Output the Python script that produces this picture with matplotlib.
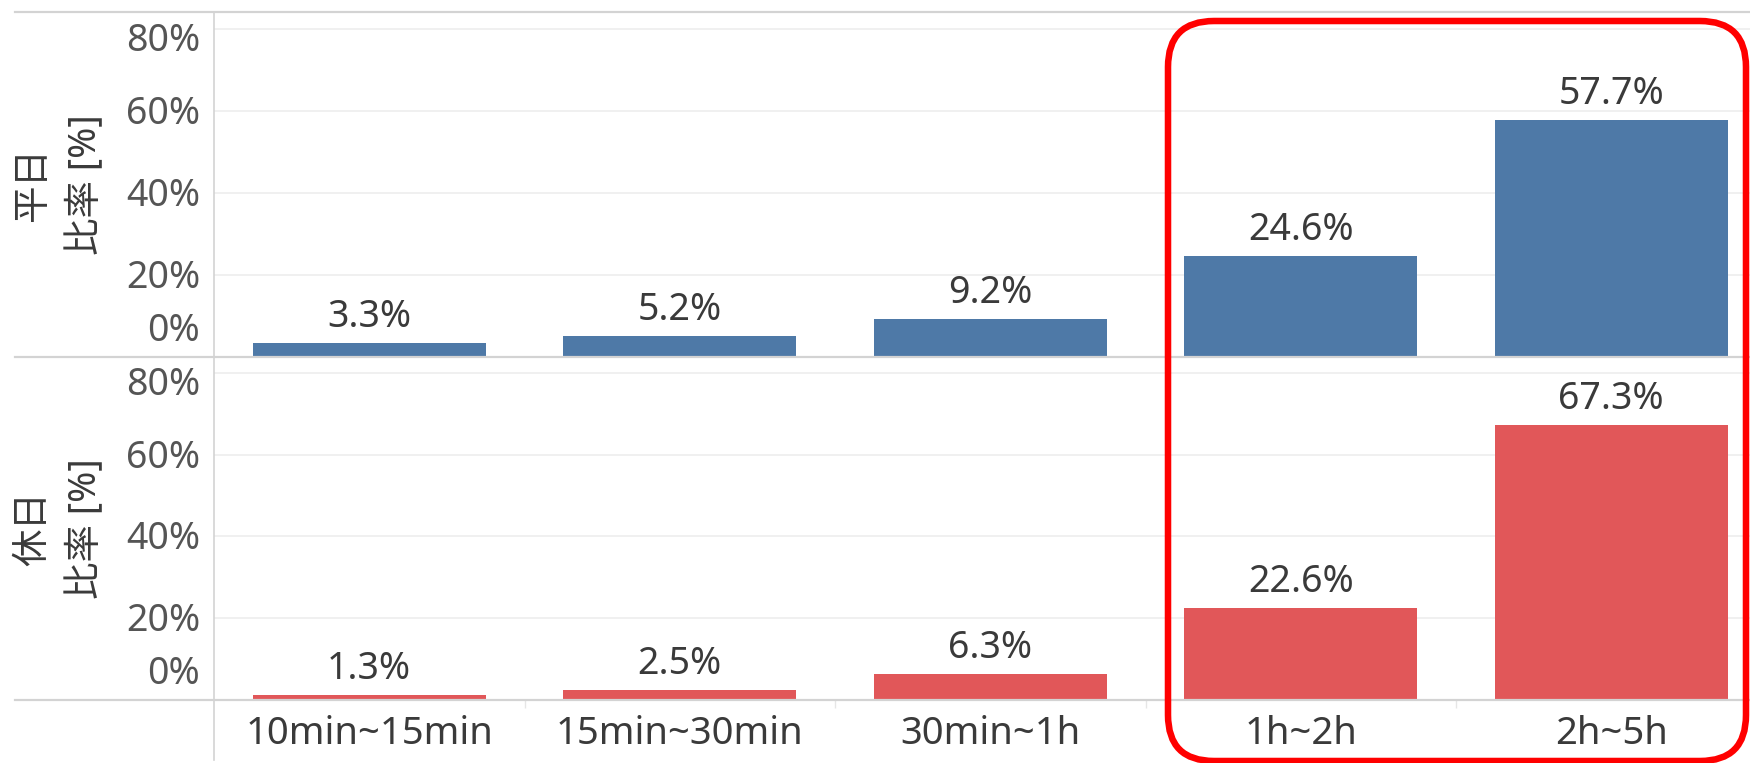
import matplotlib
matplotlib.use("Agg")
import matplotlib.pyplot as plt
from matplotlib.lines import Line2D
from matplotlib.patches import FancyBboxPatch
from matplotlib.transforms import offset_copy

plt.rcParams["font.family"] = ["Noto Sans", "Noto Sans CJK JP", "DejaVu Sans"]

# %%
categories = ["10min~15min", "15min~30min", "30min~1h", "1h~2h", "2h~5h"]
weekday = [3.3, 5.2, 9.2, 24.6, 57.7]
holiday = [1.3, 2.5, 6.3, 22.6, 67.3]
row_names = ["平日", "休日"]
y_title = "比率 [%]"
y_ticks = [0, 20, 40, 60, 80]

BLUE = "#4e79a7"
RED = "#e15759"
GRID = "#ededed"
RULE = "#d3d3d3"
TICK_C = "#555555"
TEXT_C = "#3a3a3a"

W, H = 1750, 763
fig = plt.figure(figsize=(W / 100, H / 100), dpi=100)

left = 214 / W
panes = [
    # (top px, bottom px, ymax)
    (12, 357, 84.1),
    (357, 700, 83.9),
]

axes = []
for (top, bot, ymax) in panes:
    ax = fig.add_axes([left, (H - bot) / H, 1 - left, (bot - top) / H])
    ax.set_xlim(-0.5, -0.5 + (W - 214) / 310.5)
    ax.set_ylim(0, ymax)
    for s in ax.spines.values():
        s.set_visible(False)
    ax.set_yticks([v for v in y_ticks if v > 0])
    ax.yaxis.grid(True, color=GRID, lw=1.2)
    ax.set_axisbelow(True)
    ax.tick_params(axis="y", length=0, labelleft=False)
    axes.append(ax)

# %%
for ax, vals, color, name, (top, bot, _) in zip(
    axes, [weekday, holiday], [BLUE, RED], row_names, panes
):
    x = list(range(len(categories)))
    ax.bar(x, vals, width=0.75, color=color, zorder=2)
    for xi, v in zip(x, vals):
        ax.annotate(f"{v:.1f}%", (xi, v), xytext=(0, 11.5), textcoords="offset points",
                    ha="center", va="baseline", fontsize=27, color=TEXT_C)

    # tick labels, Tableau style: edge labels pushed inside the pane
    for v in y_ticks:
        dy = {0: 26, 80: -12}.get(v, -3)
        tr = offset_copy(ax.get_yaxis_transform(), fig=fig, x=-14, y=dy, units="dots")
        ax.text(0, v, f"{v}%", transform=tr, ha="right", va="center",
                fontsize=27, color=TICK_C)

    mid = 1 - (top + bot) / 2 / H
    fig.text(33 / W, mid, name, rotation=90, ha="center", va="center",
             fontsize=27, color=TEXT_C)
    fig.text(86 / W, mid, y_title, rotation=90, ha="center", va="center",
             fontsize=27, color=TEXT_C)

axes[0].tick_params(axis="x", length=0, labelbottom=False)
bx = axes[1]
bx.set_xticks(range(len(categories)))
bx.set_xticklabels(categories, fontsize=27.5, color=TEXT_C)
bx.tick_params(axis="x", which="major", length=0, pad=11)
bx.set_xticks([i + 0.5 for i in range(len(categories) - 1)], minor=True)
bx.tick_params(axis="x", which="minor", length=6, width=1, color="#e6e6e6")

# %%
# header / pane rules
for yp in [12, 357, 700]:
    fig.add_artist(Line2D([15 / W, 1], [1 - yp / H] * 2, color=RULE, lw=1.6))
fig.add_artist(Line2D([left, left], [1 - 12 / H, 1 - 760 / H], color=RULE, lw=1.2))

# red highlight box
box = FancyBboxPatch((11.68, 0.02), 17.46 - 11.68, 7.42 - 0.02,
                     boxstyle="round,pad=0,rounding_size=0.46",
                     transform=fig.dpi_scale_trans, fill=False,
                     edgecolor="#ff0000", lw=4.7, zorder=10)
fig.add_artist(box)

fig.savefig("out.png", dpi=100)
